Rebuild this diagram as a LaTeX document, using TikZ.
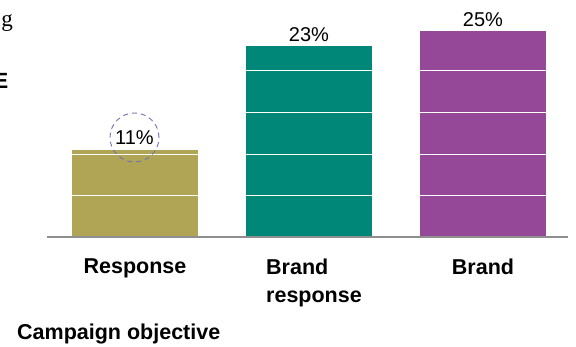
\documentclass[tikz,border=0pt]{standalone}
\usepackage{fontspec}
\setmainfont{Liberation Sans}
\newfontfamily\cutserif{Liberation Serif}
\usetikzlibrary{positioning}

\definecolor{olivebar}{HTML}{B0A555}
\definecolor{tealbar}{HTML}{008778}
\definecolor{plumbar}{HTML}{944897}
\definecolor{ringblue}{HTML}{6D72B8}
\definecolor{axisgray}{HTML}{8F8F8F}

\begin{document}
\begin{tikzpicture}[x=1pt, y=1pt,
  node distance=4pt,
  bar/.style={minimum width=126pt, inner sep=0pt, anchor=south},
  pct/.style={font=\fontsize{20}{22}\selectfont, inner sep=0pt},
  cat/.style={font=\bfseries\fontsize{21.5}{28}\selectfont, align=left, inner sep=0pt},
  gridline/.style={white, line width=1pt}
]
\useasboundingbox (0,0) rectangle (576,347);

% text cut off at the left edge
\node[anchor=base east, inner sep=0pt, font=\cutserif\fontsize{23}{25}\selectfont] (cutg) at (13,320) {g};
\node[anchor=base east, inner sep=0pt, font=\bfseries\fontsize{22}{24}\selectfont] (cute) at (8.5,258) {E};

% bars
\node[bar, fill=olivebar, minimum height=87pt] (response) at (135,110) {};
\node[bar, fill=tealbar, minimum height=191pt] (brandresp) at (309,110) {};
\node[bar, fill=plumbar, minimum height=206pt] (brand) at (483,110) {};

\foreach \b/\h in {response/87, brandresp/191, brand/206} {
  \foreach \g in {41, 82.5, 124, 166} {
    \ifdim \g pt<\h pt
      \draw[gridline] (\b.south west) ++(0,\g) -- ++(126,0);
    \fi
  }
}

% axis
\coordinate (axisleft) at (47,110);
\coordinate (axisright) at (568,110);
\draw[axisgray, line width=1.5pt] (axisleft) -- (axisright);

% values
\node[pct, circle, draw=ringblue, dash pattern=on 5pt off 4pt, line width=0.9pt, minimum size=49pt] (responsepct) at (134.5,209.5) {11\%};
\node[pct, above=of brandresp] (brandresppct) {23\%};
\node[pct, above=of brand] (brandpct) {25\%};

% categories
\node[cat, below=22pt of response] (responselbl) {Response};
\node[cat, below=22pt of brandresp, xshift=5pt] (brandresplbl) {Brand\\response};
\node[cat, below=22pt of brand] (brandlbl) {Brand};
\node[cat, anchor=base west] (objective) at (17,7) {Campaign objective};
\end{tikzpicture}
\end{document}
